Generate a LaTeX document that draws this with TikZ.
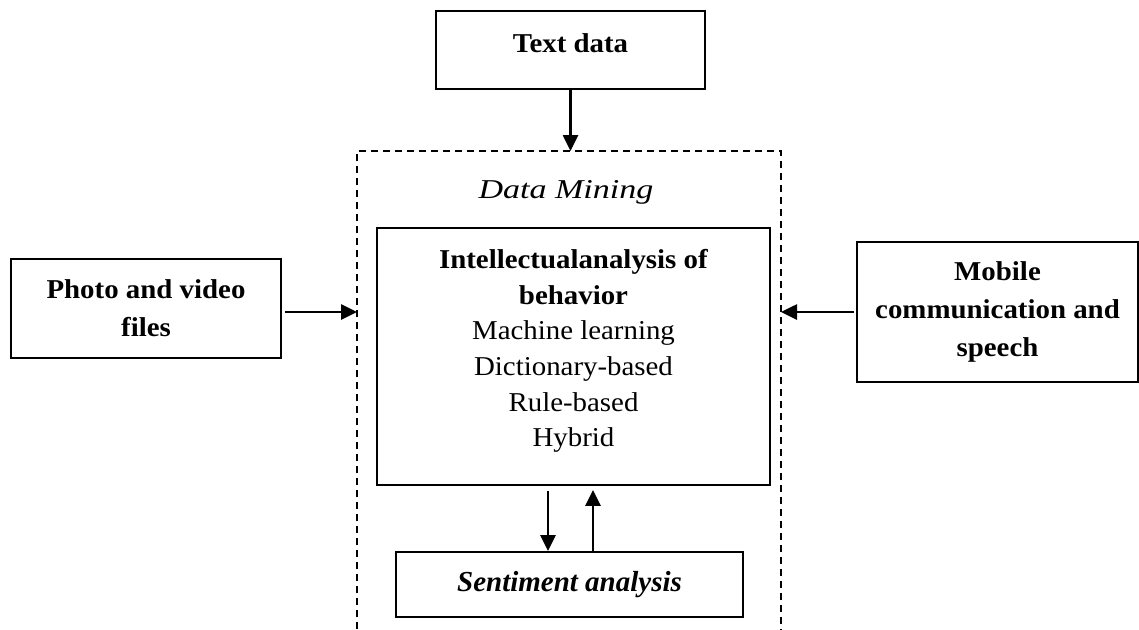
\documentclass[tikz,border=0pt]{standalone}
\usepackage{fontspec}
\setmainfont{Liberation Serif}[FakeStretch=1.06]
\newfontfamily\timesfont{Liberation Serif}
\usetikzlibrary{positioning,arrows.meta,calc}

\begin{document}
\begin{tikzpicture}[
  x=0.02cm, y=-0.02cm,
  every node/.style={font=\fontsize{15.5}{21.6}\selectfont},
  srcbox/.style={rectangle, draw=black, line width=1.1pt, align=center, inner sep=0pt,
              font=\fontsize{15.5}{21.6}\selectfont\bfseries},
  minebox/.style={rectangle, draw=black, line width=1.1pt, align=center, inner sep=0pt,
              font=\fontsize{15.5}{20.3}\selectfont},
  arr/.style={-{Triangle[length=0.32cm, width=0.3cm]}, line width=1.5pt},
  dmframe/.style={dash pattern=on 0.14cm off 0.1cm, line width=1.1pt}
]
  \useasboundingbox (0,0) rectangle (1139,629);
  % ---- data mining frame (open at the bottom) ----
  \coordinate (dmTL) at (357,151);  \coordinate (dmTR) at (781,151);
  \coordinate (dmBL) at (357,629);  \coordinate (dmBR) at (781,629);
  \draw[dmframe] (dmBL) -- (dmTL) -- (dmTR) -- (dmBR);
  \node[font=\fontsize{15.5}{21.6}\selectfont\itshape\addfontfeature{FakeStretch=1.25}]
        (dmlbl) at (566,192) {Data Mining};
  % ---- sources ----
  \node[srcbox, minimum width=5.38cm, minimum height=1.56cm, text depth=0.28cm] (txt)
        at (570.5,50) {Text data};
  \node[srcbox, minimum width=5.4cm, minimum height=1.98cm] (photo) at (146,308.5)
        {Photo and video\\ files};
  \node[srcbox, minimum width=5.62cm, minimum height=2.8cm] (mob) at (997.5,312)
        {Mobile\\ communication and\\ speech};
  % ---- inner analysis ----
  \node[minebox, minimum width=7.86cm, minimum height=5.14cm, text depth=0.34cm] (intel)
        at (573.5,356.5)
        {\textbf{Intellectualanalysis of}\\ \textbf{behavior}\\ Machine learning\\
         Dictionary-based\\ Rule-based\\ Hybrid};
  \node[minebox, minimum width=6.94cm, minimum height=1.3cm] (sent) at (569.5,584.5)
        {\timesfont\fontsize{16.5}{20}\selectfont\bfseries\itshape Sentiment analysis};
  % ---- arrows ----
  \draw[arr] (txt.south) -- (txt.south |- dmTL);
  \draw[arr, shorten <=0.06cm] ([yshift=-0.07cm]photo.east) -- ([yshift=-0.07cm]photo.east -| dmTL);
  \draw[arr, shorten <=0.04cm] (mob.west) -- (mob.west -| dmTR);
  \coordinate (dnTop) at ($(intel.south)+(-25.5,5)$);
  \coordinate (upTop) at ($(intel.south)+(19.5,4)$);
  \draw[arr] (dnTop) -- (dnTop |- sent.north);
  \draw[arr] (upTop |- sent.north) -- (upTop);
\end{tikzpicture}
\end{document}
